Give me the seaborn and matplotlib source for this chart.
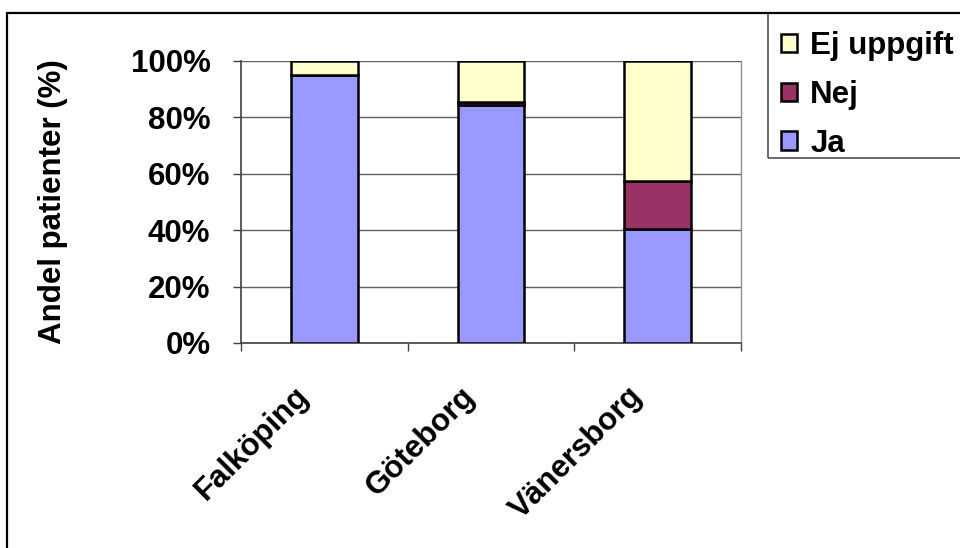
import numpy as np
import pandas as pd
import matplotlib
matplotlib.use("Agg")
import matplotlib.pyplot as plt
import matplotlib.transforms as mtransforms
from matplotlib.patches import Rectangle
from matplotlib.ticker import FuncFormatter, FixedLocator
import seaborn as sns

# Data (andel patienter i procent)
orter = ["Falköping", "Göteborg", "Vänersborg"]
ja = [95.0, 84.3, 40.4]
nej = [0.0, 1.0, 17.0]
ej_uppgift = [5.0, 14.7, 42.6]

serie_namn = ["Ja", "Nej", "Ej uppgift"]
farger = ["#9999FF", "#993366", "#FFFFCC"]

sns.set_theme(style="white")
plt.rcParams["font.family"] = ["Liberation Sans", "DejaVu Sans"]
plt.rcParams["font.weight"] = "bold"
plt.rcParams["text.color"] = "black"
plt.rcParams["axes.labelcolor"] = "black"
plt.rcParams["xtick.color"] = "black"
plt.rcParams["ytick.color"] = "black"

fig = plt.figure(figsize=(9.6, 5.48), dpi=100)
ax = fig.add_axes([241 / 960, 1 - 343 / 548, 500 / 960, (343 - 60.7) / 548])

df = pd.DataFrame({"Ort": orter, "Ja": ja, "Nej": nej, "Ej uppgift": ej_uppgift})

bottom = np.zeros(len(orter))
for namn, farg in zip(serie_namn, farger):
    sns.barplot(data=df, x="Ort", y=namn, color=farg, bottom=bottom,
                width=0.4, edgecolor="black", linewidth=1.8, ax=ax,
                saturation=1, label=namn, zorder=3)
    bottom = bottom + df[namn].to_numpy()

# axlar
ax.set_xlim(-0.5, 2.5)
ax.set_ylim(0, 100)
ax.set_yticks([0, 20, 40, 60, 80, 100])
ax.yaxis.set_major_formatter(FuncFormatter(lambda v, p: f"{v:.0f}%"))
ax.grid(axis="y", color="#606060", linewidth=1.0, zorder=0)
ax.set_axisbelow(True)

ax.spines["top"].set_visible(False)
ax.spines["right"].set_color("#909090")
ax.spines["right"].set_linewidth(1.0)
for s in ["left", "bottom"]:
    ax.spines[s].set_color("#404040")
    ax.spines[s].set_linewidth(1.2)

ax.tick_params(axis="y", direction="out", length=6, width=1, color="#404040",
               pad=16, labelsize=22.5, left=True, labelcolor="black")
ax.xaxis.set_minor_locator(FixedLocator([-0.5, 0.5, 1.5, 2.5]))
ax.tick_params(axis="x", which="minor", direction="out", length=6, width=1,
               color="#404040", bottom=True)
ax.tick_params(axis="x", which="major", length=0, pad=35, labelsize=22.5,
               labelcolor="black")
forskjut = mtransforms.ScaledTranslation(-20 / 100, 0, fig.dpi_scale_trans)
for lbl in ax.get_xticklabels():
    lbl.set_rotation(45)
    lbl.set_ha("right")
    lbl.set_va("center")
    lbl.set_rotation_mode("anchor")
    lbl.set_fontweight("bold")
    lbl.set_transform(lbl.get_transform() + forskjut)
for lbl in ax.get_yticklabels():
    lbl.set_fontweight("bold")

ax.set_xlabel("")
ax.set_ylabel("Andel patienter (%)", fontsize=22.5, fontweight="bold")
ax.yaxis.set_label_coords(-0.345, 0.5)

# legend i omvänd ordning, ram ritas separat
handles, labels = ax.get_legend_handles_labels()
leg = fig.legend(handles[::-1], labels[::-1], loc="upper left",
                 bbox_to_anchor=(781 / 960, 1 - 31 / 548),
                 frameon=False, fontsize=22.5,
                 handlelength=0.52, handleheight=0.52, handletextpad=0.42,
                 labelspacing=0.6, borderpad=0, borderaxespad=0)
for t in leg.get_texts():
    t.set_fontweight("bold")
if ax.get_legend() is not None:
    ax.get_legend().remove()

fig.patches.append(Rectangle((768 / 960, 1 - 158 / 548), 0.25, 145 / 548,
                             transform=fig.transFigure, fill=False,
                             edgecolor="#505050", linewidth=1.2))

# ram runt diagrammet
fig.patches.append(Rectangle((7 / 960, -0.02), 1.0, 1 - 13 / 548 + 0.02,
                             transform=fig.transFigure, fill=False,
                             edgecolor="black", linewidth=1.6))

fig.savefig("out.png", dpi=100)
